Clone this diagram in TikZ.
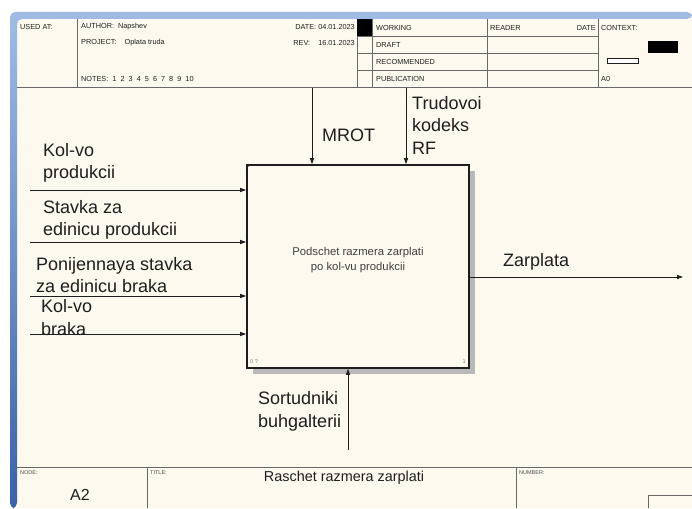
\documentclass[tikz,border=0pt]{standalone}
\usepackage{fontspec}
\setmainfont{Liberation Sans}
\usetikzlibrary{arrows.meta, positioning, calc}

\definecolor{paper}{RGB}{253,249,238}
\definecolor{framelight}{RGB}{160,188,228}
\definecolor{framedark}{RGB}{58,98,165}
\definecolor{formline}{RGB}{105,105,105}
\definecolor{ink}{RGB}{30,30,30}

\begin{document}
\begin{tikzpicture}[
    x=1pt, y=-1pt,
    form/.style={draw=formline, line width=0.9pt},
    tiny/.style={font=\fontsize{7.3}{8}\selectfont, text=ink, inner sep=0pt, anchor=west},
    micro/.style={font=\fontsize{5.5}{6}\selectfont, text=ink!80, inner sep=0pt, anchor=west},
    procbox/.style={rectangle, draw=ink, line width=1.6pt, fill=paper, minimum width=222pt, minimum height=203pt, inner sep=0pt},
    boxtext/.style={font=\fontsize{11.3}{15}\selectfont, text=ink!85, align=center, inner sep=0pt},
    label/.style={font=\fontsize{18}{22.5}\selectfont, text=ink, align=left, anchor=west, inner sep=0pt},
    flow/.style={draw=ink, line width=0.8pt, -{Triangle[length=6pt, width=4pt]}},
    shadow/.style={fill=black!28}
]

    % Page and frame
    \useasboundingbox (0,0) rectangle (692,508);
    \fill[white] (0,0) rectangle (692,508);
    \fill[paper] (17,19) rectangle (692,508);
    \shade[top color=framelight, bottom color=framedark, rounded corners=5pt]
        (10,508) -- (10,12) -- (692,12) -- (692,19) -- (17,19) -- (17,508) -- cycle;

    % Header
    \draw[form] (17,87) -- (692,87);
    \foreach \x in {77,357,372,487,598} \draw[form] (\x,19) -- (\x,87);
    \foreach \y in {36,53,70} \draw[form] (357,\y) -- (598,\y);
    \fill[black] (357,19) rectangle (372,36);
    \node[tiny] (usedat) at (20,27) {USED AT:};
    \node[tiny] (author) at (81,27) {AUTHOR:\ \ Napshev};
    \node[tiny] (project) at (81,43) {PROJECT:\ \ \ \ Oplata truda};
    \node[tiny] (notes) at (81,79) {NOTES:\ \ 1\ \ 2\ \ 3\ \ 4\ \ 5\ \ 6\ \ 7\ \ 8\ \ 9\ \ 10};
    \node[tiny, anchor=east] (date) at (355,27) {DATE:\ 04.01.2023};
    \node[tiny, anchor=east] (rev) at (355,43) {REV:\ \ \ \ 16.01.2023};
    \node[tiny] (working) at (376,28) {WORKING};
    \node[tiny] (draft) at (376,45) {DRAFT};
    \node[tiny] (recommended) at (376,62) {RECOMMENDED};
    \node[tiny] (publication) at (376,79) {PUBLICATION};
    \node[tiny] (reader) at (490,28) {READER};
    \node[tiny, anchor=east] (rdate) at (596,28) {DATE};
    \node[tiny] (context) at (601,28) {CONTEXT:};
    \fill[black] (648,41) rectangle (678,53);
    \draw[ink, line width=0.7pt, fill=white] (607,58) rectangle (638,63);
    \node[tiny] (anull) at (601,79) {A0};

    % Footer
    \draw[form] (17,467) -- (692,467);
    \foreach \x in {147,516} \draw[form] (\x,467) -- (\x,508);
    \draw[form] (648,508) -- (648,495) -- (692,495);
    \node[micro] (nodelbl) at (20,473) {NODE:};
    \node[micro] (titlelbl) at (150,473) {TITLE:};
    \node[micro] (numberlbl) at (519,473) {NUMBER:};
    \node[font=\fontsize{16}{18}\selectfont, text=ink, inner sep=0pt] (nodeid) at (80,495) {A2};
    \node[font=\fontsize{14.4}{16}\selectfont, text=ink, inner sep=0pt] (title) at (344,478) {Raschet razmera zarplati};

    % Activity box
    \fill[shadow] (469,171) rectangle (475,374);
    \fill[shadow] (253,368) rectangle (475,374);
    \node[procbox] (proc) at (358,266.5) {};
    \node[boxtext] (proctext) at ($(proc.center)+(0,-6)$) {Podschet razmera zarplati\\po kol-vu produkcii};
    \draw[ink, line width=0.6pt] ($(proc.north west)+(0,5)$) to[bend left=20] ($(proc.north west)+(5,0)$);
    \node[micro, text=ink!60] (procnum) at (250,362) {0 ?};
    \node[micro, text=ink!60, anchor=east] (procid) at (466,362) {1};

    % Inputs
    \coordinate (in1) at (30,190);
    \coordinate (in2) at (30,242);
    \coordinate (in3) at (30,296);
    \coordinate (in4) at (30,334);
    \foreach \i in {1,2,3,4} \draw[flow] (in\i) -- (in\i -| proc.west);
    \node[label] (kolvoprod) at (43,163) {Kol-vo\\produkcii};
    \node[label] (stavka) at (43,220) {Stavka za\\edinicu produkcii};
    \node[label] (ponij) at (36,275) {Ponijennaya stavka\\za edinicu braka};
    \node[label] (kolvobrak) at (41,317.5) {Kol-vo\\braka};

    % Controls
    \coordinate (ctl1) at (312,88);
    \coordinate (ctl2) at (406,88);
    \draw[flow] (ctl1) -- (ctl1 |- proc.north);
    \draw[flow] (ctl2) -- (ctl2 |- proc.north);
    \node[label] (mrot) at (322,135) {MROT};
    \node[label] (trud) at (412,125) {Trudovoi\\kodeks\\RF};

    % Output
    \coordinate (out1) at (683,277);
    \draw[flow] (out1 -| proc.east) -- (out1);
    \node[label] (zarplata) at (503,262) {Zarplata};

    % Mechanism
    \coordinate (mech1) at (348,450);
    \draw[flow] (mech1) -- (mech1 |- proc.south);
    \node[label] (sotr) at (258,411.5) {Sortudniki\\buhgalterii};

\end{tikzpicture}
\end{document}
